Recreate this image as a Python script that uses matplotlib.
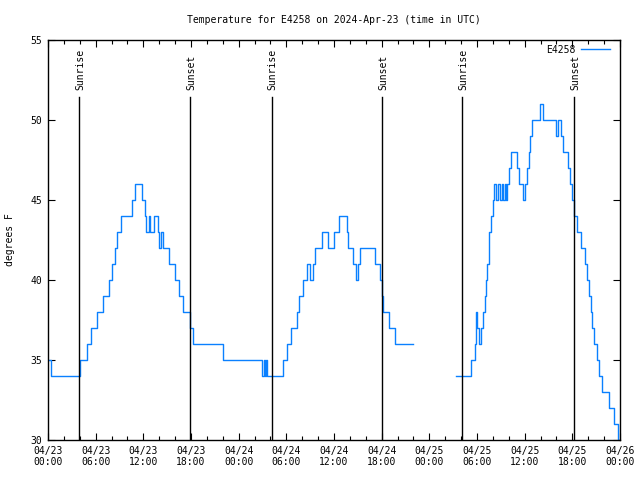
import matplotlib
matplotlib.use("Agg")
import matplotlib.pyplot as plt
import numpy as np

plt.rcParams['font.family'] = ['DejaVu Sans Mono']
plt.rcParams['font.size'] = 7

# hours since 2024-04-23 00:00 UTC, temperature in F (value holds until next point)
hours = [0.0, 0.38, 4.03, 4.91, 5.41, 6.17, 6.96, 7.68, 8.02, 8.43, 8.72, 9.19,
         10.54, 10.95, 11.79, 12.15, 12.34, 12.71, 12.84, 13.34, 13.89, 14.0,
         14.19, 14.44, 15.27, 15.94, 16.45, 17.0, 17.88, 18.29, 21.99, 26.94,
         27.19, 27.35, 27.45, 27.53, 29.54, 30.05, 30.59, 31.31, 31.6, 32.06,
         32.57, 32.98, 33.32, 33.61, 34.53, 35.28, 36.0, 36.67, 37.6, 37.8,
         38.36, 38.73, 38.99, 39.27, 41.16, 41.79, 42.08, 42.21, 42.96, 43.68,
         45.98, 46.0,
         51.36, 53.21, 53.71, 53.88, 54.05, 54.3, 54.47, 54.8, 54.98, 55.14,
         55.31, 55.48, 55.55, 55.8, 55.98, 56.19, 56.42, 56.67, 56.86, 57.1,
         57.3, 57.5, 57.6, 57.82, 57.99, 58.28, 59.0, 59.29, 59.79, 60.04,
         60.3, 60.55, 60.67, 60.89, 61.93, 62.27, 63.98, 64.24, 64.58, 64.87,
         65.49, 65.71, 65.96, 66.25, 66.55, 67.06, 67.6, 67.89, 68.1, 68.31,
         68.52, 68.73, 69.07, 69.4, 69.74, 70.58, 71.25, 71.79, 71.88]
temps = [35, 34, 35, 36, 37, 38, 39, 40, 41, 42, 43, 44,
         45, 46, 45, 44, 43, 44, 43, 44, 43, 42,
         43, 42, 41, 40, 39, 38, 37, 36, 35, 34,
         35, 34, 35, 34, 35, 36, 37, 38, 39, 40,
         41, 40, 41, 42, 43, 42, 43, 44, 43, 42,
         41, 40, 41, 42, 41, 40, 39, 38, 37, 36,
         36, np.nan,
         34, 35, 36, 38, 37, 36, 37, 38, 39, 40,
         41, 42, 43, 44, 45, 46, 45, 46, 45, 46,
         45, 46, 45, 46, 47, 48, 47, 46, 45, 46,
         47, 48, 49, 50, 51, 50, 49, 50, 49, 48,
         47, 46, 45, 44, 43, 42, 41, 40, 39, 38,
         37, 36, 35, 34, 33, 32, 31, 30, 30]

sunrise = [3.95, 28.16, 52.16]
sunset = [17.92, 42.08, 66.25]

tick_hours = list(range(0, 73, 6))
tick_labels = ['04/23\n00:00', '04/23\n06:00', '04/23\n12:00', '04/23\n18:00',
               '04/24\n00:00', '04/24\n06:00', '04/24\n12:00', '04/24\n18:00',
               '04/25\n00:00', '04/25\n06:00', '04/25\n12:00', '04/25\n18:00',
               '04/26\n00:00']

fig = plt.figure(figsize=(6.4, 4.8), dpi=100)
ax = fig.add_axes([48/640, 40/480, 572/640, 400/480])

ax.plot(hours, temps, drawstyle='steps-post', color='#0a80ff', lw=1,
        label='E4258')

# sunrise / sunset markers, label ends just above the line
for h in sunrise:
    ax.plot([h, h], [30, 51.45], color='black', lw=1)
    ax.text(h + 0.1, 51.85, 'Sunrise', rotation=90, ha='center', va='bottom')
for h in sunset:
    ax.plot([h, h], [30, 51.45], color='black', lw=1)
    ax.text(h + 0.1, 51.85, 'Sunset', rotation=90, ha='center', va='bottom')

ax.set_xlim(0, 72)
ax.set_ylim(30, 55)
ax.set_xticks(tick_hours)
ax.set_xticklabels(tick_labels)
ax.set_xticks(range(0, 73, 2), minor=True)
ax.set_yticks([30, 35, 40, 45, 50, 55])
ax.tick_params(direction='in', top=True, right=True, length=5, width=0.8, pad=4)
ax.tick_params(which='minor', direction='in', top=True, length=3, width=0.8)
for s in ax.spines.values():
    s.set_linewidth(1)

ax.set_ylabel('degrees F', labelpad=11)
ax.set_title('Temperature for E4258 on 2024-Apr-23 (time in UTC)', fontsize=7,
             pad=12)

ax.legend(loc='upper right', bbox_to_anchor=(0.99, 0.998), frameon=False,
          markerfirst=False, handlelength=3.0, borderaxespad=0.2,
          handletextpad=0.6, borderpad=0.2)

fig.savefig('out.png', dpi=100)
